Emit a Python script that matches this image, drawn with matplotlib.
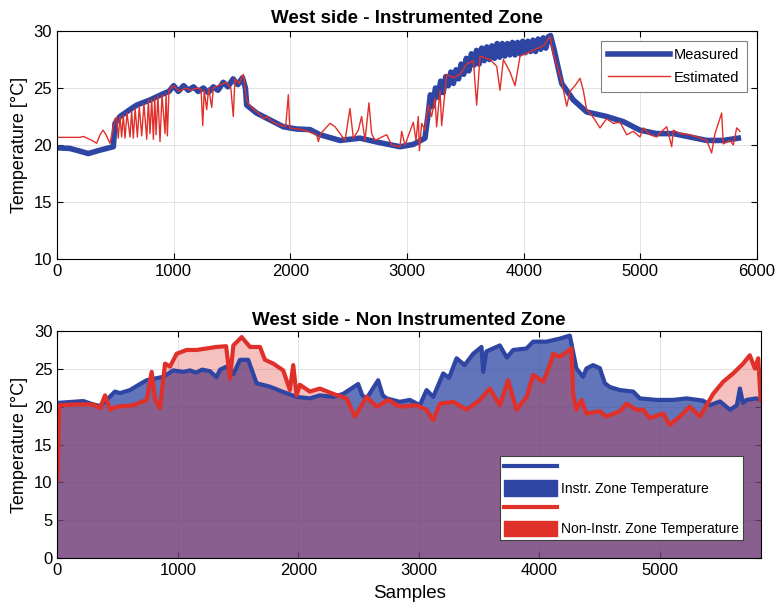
import matplotlib
matplotlib.use("Agg")
import matplotlib.pyplot as plt
from matplotlib.patches import Patch
from matplotlib.lines import Line2D

plt.rcParams['font.family'] = ['Liberation Sans', 'DejaVu Sans']

BLUE = '#2E45A3'
RED = '#E0302A'

# --- West side, instrumented zone: measured vs estimated ---
meas_samples = [0, 110, 200, 268, 369, 483, 497, 540, 610, 683, 797, 911, 960,
                1000, 1040, 1085, 1125, 1170, 1210, 1255, 1295, 1340, 1380, 1425, 1465,
                1510, 1550, 1590, 1615, 1626, 1711, 1826, 1940, 2054, 2169, 2254, 2426,
                2597, 2769, 2940, 3054, 3154,
                3180, 3200, 3222, 3244, 3266, 3288, 3310, 3332, 3354, 3376, 3398, 3420,
                3442, 3464, 3486, 3508, 3530, 3552, 3574, 3596, 3618, 3640, 3662, 3684,
                3706, 3728, 3750, 3772, 3794, 3816, 3838, 3860, 3882, 3904, 3926, 3948,
                3970, 3992, 4014, 4036, 4058, 4080, 4102, 4124, 4146, 4168, 4190, 4212,
                4230, 4260,
                4326, 4426, 4540, 4711, 4854, 4997, 5140, 5283, 5426, 5569, 5711, 5840]
meas_temp = [19.75, 19.7, 19.45, 19.25, 19.55, 19.85, 21.9, 22.5, 23.0, 23.5, 23.95, 24.5, 24.7,
             25.2, 24.7, 25.2, 24.8, 25.1, 24.7, 25.0, 24.6, 25.1, 24.8, 25.5, 25.1,
             25.8, 25.3, 25.9, 25.0, 23.5, 22.8, 22.2, 21.6, 21.4, 21.35, 20.9, 20.4,
             20.6, 20.2, 19.85, 20.05, 20.6,
             22.6, 24.4, 23.4, 25.0, 24.2, 25.6, 24.6, 26.0, 25.2, 26.4, 25.4, 26.6,
             25.8, 27.1, 26.2, 27.6, 26.5, 28.0, 27.0, 28.3, 27.1, 28.5, 27.4, 28.6,
             27.5, 28.7, 27.6, 28.9, 27.7, 28.9, 27.8, 28.9, 27.9, 29.0, 27.9, 29.0,
             28.0, 29.1, 28.1, 29.1, 28.2, 29.2, 28.2, 29.3, 28.4, 29.4, 28.5, 29.5,
             29.6, 28.4,
             25.4, 23.95, 22.9, 22.5, 22.05, 21.3, 21.0, 21.0, 20.7, 20.4, 20.4, 20.6]

est_samples = [0, 197, 226, 300, 340, 369, 395, 420, 454, 483, 497, 511, 525, 540, 554,
               568, 583, 600, 626, 640, 654, 670, 689, 705, 726, 745, 769, 783, 797, 812,
               826, 838, 849, 865, 883, 900, 926, 935, 946, 960, 1000, 1050, 1100, 1150,
               1200, 1235, 1249, 1262, 1283, 1300, 1326, 1340, 1400, 1450, 1490, 1511,
               1525, 1560, 1597, 1626, 1650, 1700, 1750, 1769, 1800, 1850, 1900, 1960,
               1983, 1995, 2050, 2083, 2150, 2226, 2240, 2260, 2340, 2383, 2426, 2469,
               2511, 2540, 2583, 2611, 2640, 2674, 2697, 2726, 2783, 2826, 2869, 2940,
               2954, 2983, 3054, 3077, 3097, 3106, 3126, 3154, 3183, 3211, 3240, 3254,
               3283, 3297, 3340, 3397, 3454, 3511, 3569, 3597, 3626, 3711, 3769, 3797,
               3826, 3883, 3926, 3969, 4083, 4140, 4169, 4226, 4254, 4297, 4326, 4369,
               4397, 4440, 4483, 4511, 4540, 4569, 4611, 4654, 4711, 4769, 4826, 4883,
               4940, 4997, 5026, 5083, 5140, 5183, 5226, 5269, 5283, 5340, 5426, 5511,
               5569, 5611, 5640, 5697, 5711, 5769, 5797, 5826, 5854]
est_temp = [20.67, 20.67, 20.75, 20.4, 20.15, 20.9, 21.3, 20.9, 20.15, 21.6, 22.3, 22.4, 20.6, 22.5, 20.7,
            22.6, 20.6, 22.8, 20.7, 23.0, 20.6, 23.2, 20.7, 23.4, 20.8, 23.6, 20.5, 23.9, 21.0, 24.0,
            20.5, 24.1, 20.9, 24.3, 20.3, 24.4, 21.0, 24.5, 20.8, 24.8, 25.2, 24.7, 25.0, 24.8,
            25.0, 24.9, 21.7, 24.8, 23.1, 25.0, 23.3, 25.0, 25.3, 25.5, 25.0, 22.5,
            25.8, 25.4, 26.2, 23.9, 23.5, 23.0, 22.6, 22.3, 22.5, 22.0, 21.8, 21.6,
            24.4, 21.5, 21.4, 21.4, 21.2, 20.9, 20.3, 21.0, 21.9, 21.6, 21.0, 20.4,
            23.2, 20.6, 21.3, 22.5, 20.4, 23.7, 21.0, 20.4, 20.7, 20.9, 20.0, 19.85,
            21.2, 20.0, 22.0, 20.4, 22.5, 19.5, 21.9, 21.3, 23.5, 22.5, 24.1, 21.6,
            24.8, 21.7, 26.2, 25.9, 26.2, 27.1, 27.4, 23.5, 27.8, 27.5, 26.9, 24.8,
            27.5, 26.4, 25.2, 27.8, 28.3, 28.6, 28.7, 29.5, 28.0, 26.6, 25.55, 23.4,
            24.7, 25.2, 25.85, 24.8, 23.1, 22.8, 22.2, 21.5, 22.3, 21.9, 22.0, 20.9,
            21.2, 20.7, 21.5, 20.9, 20.7, 21.2, 21.6, 19.85, 21.3, 21.0, 20.9, 20.6,
            20.4, 19.3, 21.0, 22.8, 20.1, 20.4, 20.0, 21.5, 21.2]

# --- West side, non instrumented zone ---
instr_samples = [0, 214, 297, 353, 408, 477, 519, 602, 685, 740, 878, 961, 1045, 1100,
                 1150, 1200, 1265, 1320, 1350, 1404, 1460, 1515, 1583, 1653, 1763, 1874,
                 1985, 2095, 2178, 2289, 2372, 2496, 2530, 2566, 2662, 2700, 2732, 2842,
                 2925, 3008, 3064, 3119, 3202, 3250, 3313, 3380, 3451, 3520, 3534, 3560,
                 3672, 3730, 3783, 3894, 3949, 4060, 4170, 4253, 4267, 4308, 4363, 4391,
                 4446, 4502, 4544, 4585, 4668, 4779, 4834, 4973, 5111, 5222, 5360, 5416,
                 5499, 5582, 5640, 5665, 5690, 5720, 5803, 5837]
instr_temp = [20.5, 20.75, 20.3, 20.1, 20.9, 22.0, 21.8, 22.2, 23.0, 23.5, 23.95, 24.8, 24.6, 24.8,
              24.5, 24.9, 24.7, 23.9, 24.9, 25.3, 24.3, 26.2, 26.2, 23.1, 22.65, 21.95,
              21.3, 21.1, 21.5, 21.3, 21.7, 23.0, 21.5, 21.1, 23.5, 21.5, 21.1, 20.65,
              20.9, 20.2, 22.2, 21.3, 24.4, 23.8, 26.4, 25.5, 27.0, 27.9, 24.6, 27.3,
              28.1, 26.5, 27.5, 27.7, 28.6, 28.6, 29.0, 29.4, 28.3, 25.05, 23.95, 25.05,
              25.5, 25.1, 23.1, 22.6, 22.2, 22.0, 21.1, 20.9, 20.9, 21.1, 20.8, 20.2,
              20.7, 19.6, 20.2, 22.4, 20.5, 20.9, 21.1, 20.9]

noninstr_samples = [0, 15, 150, 297, 353, 395, 436, 491, 630, 740, 782, 810, 851, 893, 934,
                    989, 1072, 1155, 1238, 1321, 1400, 1432, 1460, 1529, 1598, 1681, 1722,
                    1791, 1874, 1929, 1957, 1985, 2012, 2095, 2178, 2289, 2400, 2469, 2566,
                    2649, 2745, 2842, 2980, 3064, 3119, 3174, 3285, 3396, 3506, 3589, 3672,
                    3741, 3811, 3894, 3949, 4032, 4087, 4115, 4170, 4267, 4280, 4308, 4350,
                    4391, 4502, 4557, 4668, 4723, 4806, 4862, 4917, 5028, 5083, 5166, 5249,
                    5333, 5388, 5443, 5526, 5609, 5692, 5747, 5789, 5817, 5837]
noninstr_temp = [10.3, 20.2, 20.3, 20.3, 19.8, 21.5, 19.6, 20.0, 20.2, 20.9, 24.6, 21.0, 19.8, 25.7, 25.3,
                 27.0, 27.5, 27.5, 27.7, 27.9, 28.0, 23.7, 28.1, 29.2, 27.9, 27.9, 26.2,
                 25.7, 24.8, 22.2, 25.5, 21.5, 22.9, 22.0, 22.4, 21.7, 21.1, 18.7, 21.3,
                 20.0, 20.9, 20.0, 20.2, 19.6, 18.2, 20.4, 20.65, 19.6, 20.9, 22.4, 20.2,
                 23.5, 19.6, 21.3, 24.2, 23.3, 25.5, 27.0, 26.6, 27.7, 21.7, 19.6, 20.9,
                 19.1, 19.4, 18.7, 19.4, 20.4, 19.6, 19.6, 18.5, 19.1, 17.6, 18.7, 20.0,
                 18.7, 20.2, 21.7, 23.3, 24.4, 25.7, 26.8, 25.05, 26.4, 20.9]


def style_axes(ax):
    ax.grid(True, color='#e3e3e3', linewidth=0.7)
    ax.tick_params(direction='in', top=True, right=True, labelsize=12, length=4, width=0.8)
    for sp in ax.spines.values():
        sp.set_linewidth(0.8)


fig = plt.figure(figsize=(7.83, 6.09), dpi=100)

# top panel
ax1 = fig.add_axes([0.0728, 0.5747, 0.894, 0.3744])
ax1.plot(meas_samples, meas_temp, color=BLUE, linewidth=4, label='Measured')
ax1.plot(est_samples, est_temp, color=RED, linewidth=1.0, label='Estimated')
ax1.set_xlim(0, 6000)
ax1.set_ylim(10, 30)
ax1.set_xticks(range(0, 6001, 1000))
ax1.set_yticks([10, 15, 20, 25, 30])
ax1.set_ylabel('Temperature [°C]', fontsize=13)
ax1.set_title('West side - Instrumented Zone', fontsize=13.5, fontweight='bold', pad=6)
style_axes(ax1)
leg1 = ax1.legend(loc='upper right', fontsize=10.5, fancybox=False, framealpha=1,
                  edgecolor='#808080', handlelength=4.2, borderaxespad=0.7,
                  labelspacing=0.55, handletextpad=0.3, borderpad=0.5)
leg1.get_frame().set_linewidth(0.8)

# bottom panel: shaded areas under both zone temperatures
ax2 = fig.add_axes([0.0734, 0.0837, 0.8985, 0.3727])
ax2.set_axisbelow(True)
ax2.fill_between(instr_samples, 0, instr_temp, color=BLUE, alpha=0.75, linewidth=0)
ax2.plot(instr_samples, instr_temp, color=BLUE, linewidth=3)
ax2.fill_between(noninstr_samples, 0, noninstr_temp, color=RED, alpha=0.3, linewidth=0)
ax2.plot(noninstr_samples, noninstr_temp, color=RED, linewidth=3)
ax2.set_xlim(0, 5840)
ax2.set_ylim(0, 30)
ax2.set_xticks(range(0, 5001, 1000))
ax2.set_yticks(range(0, 31, 5))
ax2.set_xlabel('Samples', fontsize=13.5, labelpad=5)
ax2.set_ylabel('Temperature [°C]', fontsize=13)
ax2.set_title('West side - Non Instrumented Zone', fontsize=13.5, fontweight='bold', pad=4)
style_axes(ax2)

handles = [Line2D([], [], color=BLUE, linewidth=3), Patch(color=BLUE),
           Line2D([], [], color=RED, linewidth=3), Patch(color=RED)]
labels = ['', 'Instr. Zone Temperature', '', 'Non-Instr. Zone Temperature']
leg2 = ax2.legend(handles, labels, loc='lower right', fontsize=10, fancybox=False,
                  framealpha=1, edgecolor='#404040', handlelength=3.8, handleheight=1.3,
                  borderaxespad=1.3, labelspacing=0.35, handletextpad=0.3, borderpad=0.3)
leg2.get_frame().set_linewidth(0.8)

fig.savefig('out.png', dpi=100)
